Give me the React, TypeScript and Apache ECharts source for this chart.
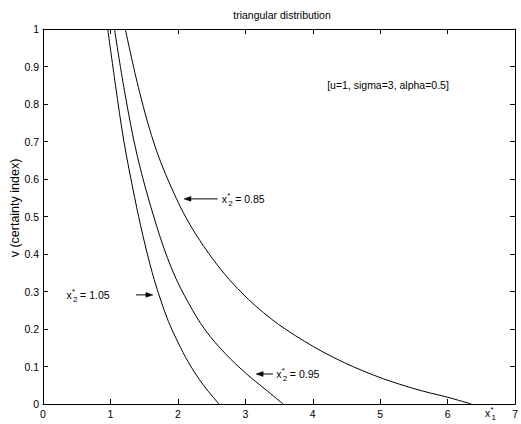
import React, { useEffect, useRef } from "react";
import * as echarts from "echarts";

// ---- data ----
const xTickLabels = ["0", "1", "2", "3", "4", "5", "6", "7"];
const yTickLabels = ["0", "0.1", "0.2", "0.3", "0.4", "0.5", "0.6", "0.7", "0.8", "0.9", "1"];

// x*2 = 1.05 (innermost)
const curve105: [number, number][] = [
  [0.96, 1], [1.075, 0.85], [1.2, 0.7], [1.36, 0.55], [1.48, 0.45], [1.62, 0.35],
  [1.74, 0.28], [1.86, 0.22], [2.0, 0.165], [2.16, 0.11], [2.38, 0.05], [2.61, 0],
];
// x*2 = 0.95 (middle)
const curve095: [number, number][] = [
  [1.06, 1], [1.21, 0.833], [1.4, 0.66], [1.672, 0.482], [1.917, 0.357],
  [2.162, 0.268], [2.407, 0.197], [2.7, 0.135], [3.02, 0.08], [3.29, 0.04], [3.56, 0],
];
// x*2 = 0.85 (outermost)
const curve085: [number, number][] = [
  [1.22, 1], [1.43, 0.833], [1.68, 0.677], [1.98, 0.547], [2.2, 0.472], [2.456, 0.402],
  [2.7, 0.345], [2.95, 0.296], [3.15, 0.262], [3.39, 0.226], [3.6, 0.199], [3.88, 0.167],
  [4.15, 0.139], [4.47, 0.11], [4.75, 0.088], [5.05, 0.067], [5.25, 0.055], [5.5, 0.041],
  [5.75, 0.029], [6.0, 0.018], [6.35, 0],
];

const curveNames = ["1.05", "0.95", "0.85"];

// annotation anchors in data coordinates
const labelAnchors = [
  { value: "0.85", y: 0.547, textX: 2.65, arrowFrom: 2.59, arrowTo: 2.09 },
  { value: "1.05", y: 0.291, textX: 0.35, arrowFrom: 1.38, arrowTo: 1.63 },
  { value: "0.95", y: 0.08, textX: 3.46, arrowFrom: 3.41, arrowTo: 3.16 },
];

const FONT = '"Liberation Sans", Arial, Helvetica, sans-serif';
const FS = 10.5;

function txt(text: string, x: number, y: number, size = FS, align = "left", extra: any = {}) {
  return {
    type: "text",
    x,
    y,
    silent: true,
    ...extra,
    style: {
      text,
      fill: "#000",
      fontSize: size,
      fontFamily: FONT,
      align,
      verticalAlign: "middle",
    },
  };
}

function subscripted(x: number, y: number, sub: string, rest: string) {
  return [
    txt("x", x, y),
    txt("*", x + 5.5, y - 3.5, 8),
    txt(sub, x + 6.5, y + 4.5, 8),
    rest ? txt(rest, x + 13.5, y) : null,
  ].filter(Boolean);
}

export default function App() {
  const ref = useRef<HTMLDivElement>(null);

  useEffect(() => {
    if (!ref.current) return;
    const chart = echarts.init(ref.current, undefined, { renderer: "svg" });

    const axisLine = { show: true, onZero: false, lineStyle: { color: "#000", width: 1 } };
    const axisTick = { show: true, inside: true, length: 5, lineStyle: { color: "#000", width: 1 } };
    const axisLabel = { color: "#000", fontSize: FS, fontFamily: FONT, margin: 4 };

    const mkSeries = (name: string, data: [number, number][]) => ({
      name,
      type: "line",
      data,
      xAxisIndex: 0,
      yAxisIndex: 0,
      smooth: 0.35,
      showSymbol: false,
      symbol: "none",
      lineStyle: { color: "#000", width: 1 },
      silent: true,
      emphasis: { disabled: true },
    });

    chart.setOption({
      animation: false,
      backgroundColor: "#fff",
      grid: { left: 43, right: 2, top: 29, bottom: 20, containLabel: false },
      xAxis: [
        {
          type: "value", min: 0, max: 7, interval: 1, position: "bottom",
          axisLine, axisTick,
          axisLabel: { ...axisLabel, formatter: (v: number) => xTickLabels[Math.round(v)] ?? "" },
          splitLine: { show: false },
        },
        {
          type: "value", min: 0, max: 7, interval: 1, position: "top",
          axisLine, axisTick, axisLabel: { show: false }, splitLine: { show: false },
        },
      ],
      yAxis: [
        {
          type: "value", min: 0, max: 1, interval: 0.1, position: "left",
          axisLine, axisTick,
          axisLabel: { ...axisLabel, formatter: (v: number) => yTickLabels[Math.round(v * 10)] ?? "" },
          splitLine: { show: false },
        },
        {
          type: "value", min: 0, max: 1, interval: 0.1, position: "right",
          axisLine, axisTick, axisLabel: { show: false }, splitLine: { show: false },
        },
      ],
      series: [
        mkSeries(curveNames[0], curve105),
        mkSeries(curveNames[1], curve095),
        mkSeries(curveNames[2], curve085),
      ],
    });

    const toPx = (x: number, y: number) =>
      chart.convertToPixel({ xAxisIndex: 0, yAxisIndex: 0 }, [x, y]) as number[];

    const elements: any[] = [];
    elements.push(txt("triangular distribution", 282, 15, FS, "center"));
    elements.push(txt("[u=1, sigma=3, alpha=0.5]", 388, 85, FS, "center"));
    elements.push(txt("v (certainty index)", 15, 208, 12.5, "center", { rotation: Math.PI / 2 }));
    elements.push(...subscripted(485, 412.5, "1", ""));

    labelAnchors.forEach((a) => {
      const [tx, ty] = toPx(a.textX, a.y);
      const [fx] = toPx(a.arrowFrom, a.y);
      const [tox] = toPx(a.arrowTo, a.y);
      elements.push(...subscripted(tx, ty, "2", "= " + a.value));
      const dir = tox > fx ? 1 : -1;
      const headLen = 7;
      const halfW = 2.4;
      elements.push({
        type: "line",
        silent: true,
        shape: { x1: fx, y1: ty, x2: tox - dir * headLen, y2: ty },
        style: { stroke: "#000", lineWidth: 1 },
      });
      elements.push({
        type: "polygon",
        silent: true,
        shape: {
          points: [
            [tox, ty],
            [tox - dir * headLen, ty - halfW],
            [tox - dir * headLen, ty + halfW],
          ],
        },
        style: { fill: "#000", stroke: "#000", lineWidth: 0.5 },
      });
    });

    chart.setOption({ graphic: { elements } });

    return () => chart.dispose();
  }, []);

  return (
    <div
      ref={ref}
      style={{ position: "fixed", left: 0, top: 0, width: 521, height: 424, background: "#fff" }}
    />
  );
}
